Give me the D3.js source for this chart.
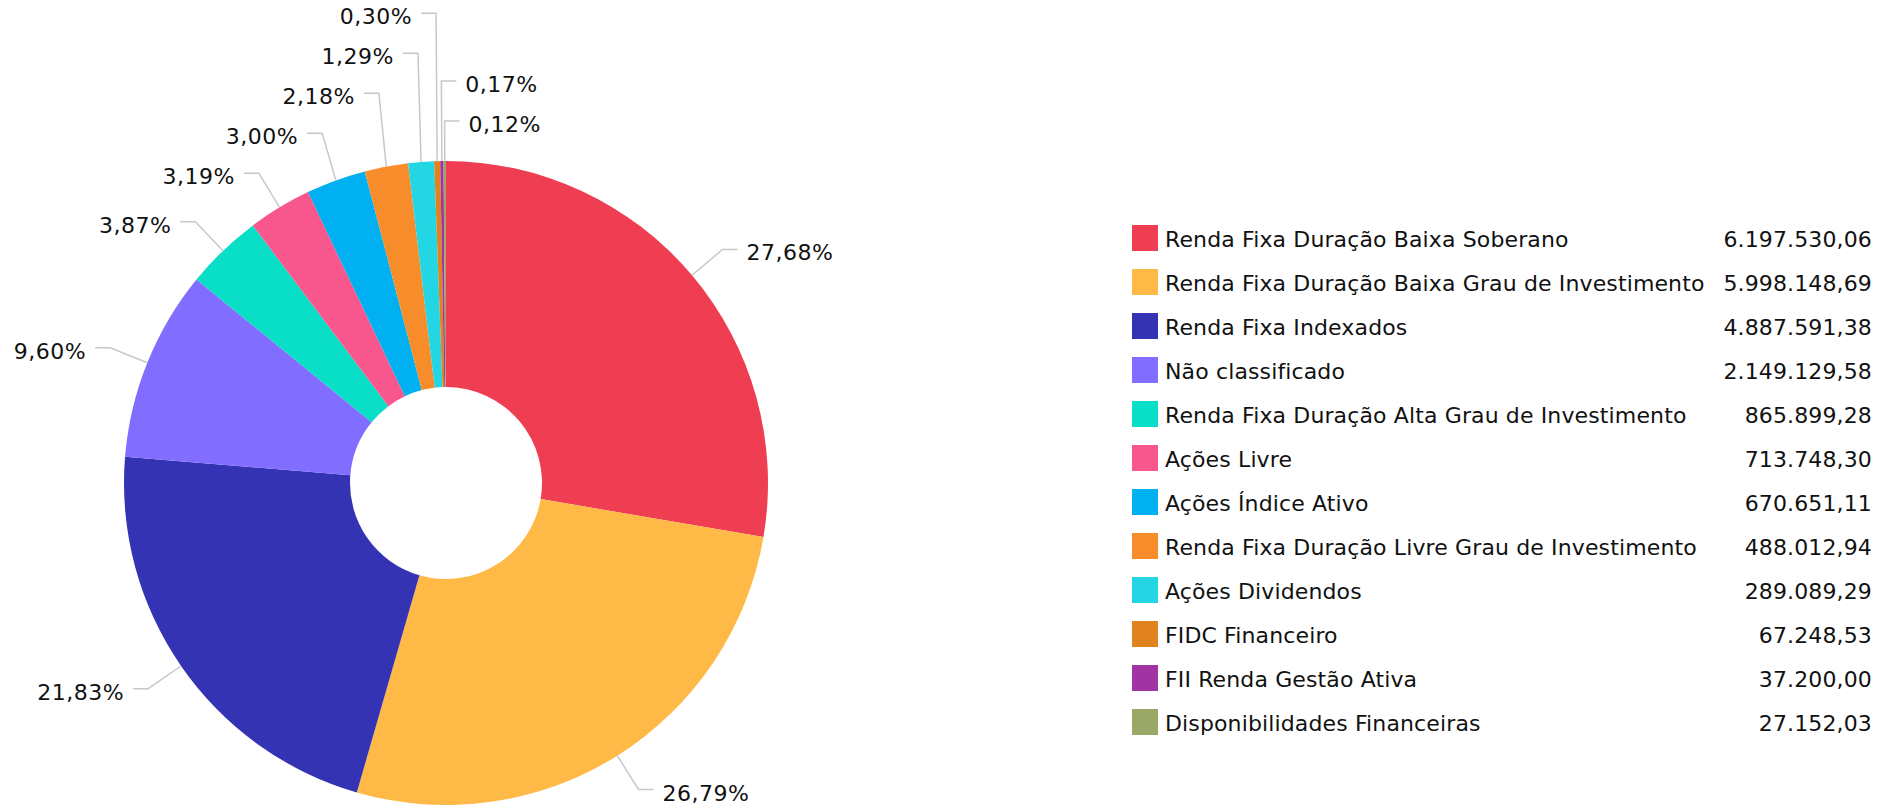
<!DOCTYPE html>
<html>
<head>
<meta charset="utf-8">
<script src="https://cdn.jsdelivr.net/npm/d3@7"></script>
<style>
  html, body { margin: 0; padding: 0; background: #fff; }
  svg { display: block; font-family: "DejaVu Sans", Verdana, sans-serif; }
</style>
</head>
<body>
<div id="chart"></div>
<script>
const categories = [
    "Renda Fixa Duração Baixa Soberano",
    "Renda Fixa Duração Baixa Grau de Investimento",
    "Renda Fixa Indexados",
    "Não classificado",
    "Renda Fixa Duração Alta Grau de Investimento",
    "Ações Livre",
    "Ações Índice Ativo",
    "Renda Fixa Duração Livre Grau de Investimento",
    "Ações Dividendos",
    "FIDC Financeiro",
    "FII Renda Gestão Ativa",
    "Disponibilidades Financeiras"
];
const values = [
    6197530.06, 5998148.69, 4887591.38, 2149129.58, 865899.28, 713748.30,
    670651.11, 488012.94, 289089.29, 67248.53, 37200.00, 27152.03
];
const colors = [
    "#EF3D52", "#FFB946", "#3333B3", "#816DFF", "#08DFC6", "#F7578C",
    "#00B0F0", "#F68D2A", "#24D5E3", "#E0821E", "#A233A3", "#99A866"
];

const width = 1901, height = 808;
const cx = 446, cy = 483;
const outerR = 322, innerR = 96;
const elbowR = outerR + 40;   // where the connector bends
const hookLen = 15;           // horizontal part of the connector
const labelGap = 40;          // min vertical distance between labels

const ptBR = d3.formatLocale({ decimal: ",", thousands: ".", grouping: [3], currency: ["R$ ", ""] });
const fmtValue = ptBR.format(",.2f");
const fmtPct = ptBR.format(",.2f");

const data = categories.map((c, i) => ({ name: c, value: values[i], color: colors[i] }));
const total = d3.sum(values);

const svg = d3.select("#chart").append("svg")
    .attr("width", width)
    .attr("height", height);

const g = svg.append("g").attr("transform", `translate(${cx},${cy})`);

const pie = d3.pie().sort(null).value(d => d.value);
const arc = d3.arc().innerRadius(innerR).outerRadius(outerR);
const arcs = pie(data);

g.selectAll("path.slice")
  .data(arcs)
  .join("path")
    .attr("class", "slice")
    .attr("d", arc)
    .attr("fill", d => d.data.color);

// label positions: start radial, then push apart vertically
const labels = arcs.map(d => {
    const a = (d.startAngle + d.endAngle) / 2;
    const s = Math.sin(a), c = -Math.cos(a);
    return {
        d, a,
        px: outerR * s, py: outerR * c,
        ex: elbowR * s, ey: elbowR * c,
        y: elbowR * c,
        side: s >= 0 ? 1 : -1
    };
});

//left side, from bottom to top; labels that run off the top go to the right
const left = labels.filter(l => l.side < 0).sort((a, b) => a.a - b.a);
let prev = Infinity;
for (const l of left) {
    const y = Math.min(l.ey, prev - labelGap);
    if (y + cy < 10) {
        l.side = 1;
    } else {
        l.y = y;
        prev = y;
    }
}

//right side, ordered clockwise from the top, resolved from bottom up
const key = l => (l.a > Math.PI ? l.a - 2 * Math.PI : l.a);
const right = labels.filter(l => l.side > 0).sort((a, b) => key(b) - key(a));
prev = Infinity;
for (const l of right) {
    l.y = Math.min(l.ey, prev - labelGap);
    prev = l.y;
}

g.selectAll("polyline.conn")
  .data(labels)
  .join("polyline")
    .attr("class", "conn")
    .attr("fill", "none")
    .attr("stroke", "#c8c8c8")
    .attr("stroke-width", 1.5)
    .attr("points", l => [
        [l.px, l.py],
        [l.ex, l.y],
        [l.ex + l.side * hookLen, l.y]
    ].join(" "));

g.selectAll("text.pct")
  .data(labels)
  .join("text")
    .attr("class", "pct")
    .attr("x", l => l.ex + l.side * (hookLen + 9))
    .attr("y", l => l.y)
    .attr("dy", "0.5em")
    .attr("text-anchor", l => l.side > 0 ? "start" : "end")
    .style("font-size", "22px")
    .style("letter-spacing", "0.5px")
    .attr("fill", "#111")
    .text(l => fmtPct(l.d.data.value / total * 100) + "%");

//legend with values
const rowY = d3.scaleBand()
    .domain(categories)
    .range([216, 216 + categories.length * 44]);

const legend = svg.append("g")
    .style("font-size", "22px")
    .style("letter-spacing", "0.13px")
    .attr("fill", "#111")
  .selectAll("g")
  .data(data)
  .join("g")
    .attr("transform", d => `translate(0,${rowY(d.name) + rowY.bandwidth() / 2})`);

legend.append("rect")
    .attr("x", 1132)
    .attr("y", -13)
    .attr("width", 26)
    .attr("height", 26)
    .attr("fill", d => d.color);

legend.append("text")
    .attr("x", 1165)
    .attr("dy", "0.42em")
    .text(d => d.name);

legend.append("text")
    .attr("x", 1872)
    .attr("dy", "0.42em")
    .attr("text-anchor", "end")
    .text(d => fmtValue(d.value));
</script>
</body>
</html>
